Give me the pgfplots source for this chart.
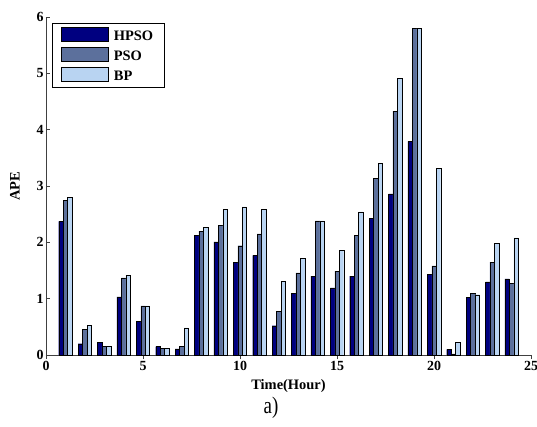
\documentclass[border=0pt]{standalone}
\usepackage{pgfplots}
\pgfplotsset{compat=1.18}
\usepackage{fontspec}
\setmainfont{Liberation Serif}
\definecolor{hpso}{RGB}{0,0,128}
\definecolor{pso}{RGB}{92,112,156}
\definecolor{bp}{RGB}{185,212,242}
\begin{document}
\begin{tikzpicture}[x=1bp,y=1bp]
\useasboundingbox (-46,-71) rectangle (491,355);
\begin{axis}[
  at={(0,0)}, anchor=south west,
  scale only axis, width=485bp, height=338bp,
  xmin=0, xmax=25, ymin=0, ymax=6,
  xtick={0,5,10,15,20,25}, ytick={0,1,2,3,4,5,6},
  xticklabels={0,5,10,15,20,25}, yticklabels={0,1,2,3,4,5,6},
  axis lines*=left,
  axis line style={black!75, line width=0.8pt},
  tick style={black!75, line width=0.6pt},
  tick align=inside, major tick length=4bp,
  tick label style={font=\bfseries\fontsize{14}{16}\selectfont},
  xticklabel style={yshift=1bp},
  yticklabel style={xshift=1bp},
  xlabel={\bfseries Time(Hour)}, ylabel={\bfseries APE},
  label style={font=\bfseries\fontsize{14.5}{16}\selectfont},
  xlabel style={yshift=-2bp},
  ylabel style={yshift=10bp},
  ybar, bar width=0.23,
  legend style={at={(0,1)}, anchor=north west, xshift=6bp, yshift=-6bp,
    draw=black, line width=0.6pt,
    font=\bfseries\fontsize{14.5}{16}\selectfont, row sep=3bp, column sep=3bp,
    inner xsep=9bp, inner ysep=4bp},
  legend cell align=left,
  legend image code/.code={\draw[#1, draw=black] (0bp,-5bp) rectangle (47bp,9bp);},
]
\addplot[fill=hpso, draw=black, bar shift=-0.23] coordinates {
(1,2.37) (2,0.20) (3,0.23) (4,1.03) (5,0.60) (6,0.15) (7,0.11) (8,2.12)
(9,2.01) (10,1.65) (11,1.77) (12,0.52) (13,1.10) (14,1.40) (15,1.19) (16,1.40)
(17,2.43) (18,2.86) (19,3.79) (20,1.43) (21,0.10) (22,1.02) (23,1.30) (24,1.35)};
\addplot[fill=pso, draw=black, bar shift=0] coordinates {
(1,2.75) (2,0.45) (3,0.15) (4,1.37) (5,0.87) (6,0.12) (7,0.15) (8,2.20)
(9,2.30) (10,1.94) (11,2.15) (12,0.77) (13,1.46) (14,2.38) (15,1.49) (16,2.13)
(17,3.14) (18,4.33) (19,5.80) (20,1.58) (21,0.02) (22,1.10) (23,1.65) (24,1.27)};
\addplot[fill=bp, draw=black, bar shift=0.23] coordinates {
(1,2.80) (2,0.53) (3,0.15) (4,1.42) (5,0.87) (6,0.12) (7,0.48) (8,2.27)
(9,2.58) (10,2.63) (11,2.59) (12,1.31) (13,1.71) (14,2.38) (15,1.86) (16,2.54)
(17,3.40) (18,4.91) (19,5.80) (20,3.31) (21,0.22) (22,1.07) (23,1.98) (24,2.08)};
\legend{HPSO\hspace{4bp},PSO,BP}
\end{axis}
\node[font=\fontsize{19}{21}\selectfont] at (225,-53) {\scalebox{1}[1.25]{a)}};
\end{tikzpicture}
\end{document}
